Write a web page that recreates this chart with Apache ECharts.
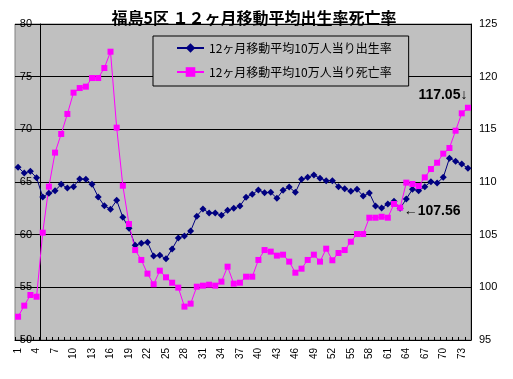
<!DOCTYPE html>
<html>
<head>
<meta charset="utf-8">
<script src="https://cdn.jsdelivr.net/npm/echarts@6/dist/echarts.min.js"></script>
<style>html,body{margin:0;padding:0;background:#fff}#c{width:513px;height:379px}</style>
</head>
<body>
<div id="c"></div>
<script>
var categories = ['1','2','3','4','5','6','7','8','9','10','11','12','13','14','15','16','17','18','19','20',
'21','22','23','24','25','26','27','28','29','30','31','32','33','34','35','36','37','38','39','40',
'41','42','43','44','45','46','47','48','49','50','51','52','53','54','55','56','57','58','59','60',
'61','62','63','64','65','66','67','68','69','70','71','72','73','74'];

var birthRate = [66.40,65.85,66.01,65.41,63.58,63.93,64.18,64.78,64.43,64.56,
65.29,65.25,64.78,63.58,62.74,62.41,63.26,61.65,60.60,58.99,
59.18,59.27,57.97,58.04,57.72,58.64,59.68,59.87,60.35,61.76,
62.44,62.06,62.06,61.84,62.31,62.50,62.72,63.55,63.83,64.24,
63.99,64.02,63.45,64.22,64.52,64.02,65.25,65.44,65.67,65.35,
65.13,65.13,64.56,64.37,64.12,64.31,63.67,63.96,62.72,62.53,
62.91,63.17,62.50,63.39,64.31,64.18,64.56,65.03,64.91,65.44,
67.25,66.96,66.71,66.30];

var deathRate = [97.21,98.26,99.27,99.11,105.19,109.56,112.79,114.56,116.46,118.48,
118.92,119.05,119.87,119.87,120.82,122.37,115.16,109.65,106.01,103.54,
102.60,101.30,100.29,101.58,100.95,100.44,99.97,98.17,98.45,100.06,
100.16,100.25,100.16,100.54,101.96,100.35,100.44,101.01,101.01,102.60,
103.54,103.39,103.01,103.10,102.44,101.39,101.77,102.60,103.10,102.44,
103.67,102.57,103.26,103.54,104.33,105.06,105.06,106.61,106.61,106.70,
106.61,107.91,107.56,109.94,109.81,109.62,110.44,111.23,111.83,112.69,
113.23,114.87,116.52,117.05];

var seriesNames = ['12ヶ月移動平均10万人当り出生率', '12ヶ月移動平均10万人当り死亡率'];
var titleText = '福島5区 １２ヶ月移動平均出生率死亡率';
var annotIdx = [73, 62];

var chart = echarts.init(document.getElementById('c'), null, {renderer: 'canvas'});
var font = '"Noto Sans CJK JP", "Liberation Sans", sans-serif';
chart.setOption({
  animation: false,
  backgroundColor: '#fff',
  title: {
    text: titleText, left: 249, top: 5, textAlign: 'center',
    textStyle: {fontFamily: font, fontSize: 16, fontWeight: 'bold', color: '#000'}
  },
  legend: {
    orient: 'vertical', left: 153, top: 36,
    padding: [6, 17, 8, 23],
    itemWidth: 27, itemHeight: 12, itemGap: 12, itemTextGap: 5,
    backgroundColor: '#C0C0C0', borderColor: '#000', borderWidth: 1,
    textStyle: {fontFamily: font, fontSize: 12, color: '#000'},
    data: seriesNames
  },
  grid: {left: 15, right: 42, top: 24, bottom: 39, show: true, backgroundColor: '#C0C0C0', borderColor: '#808080', borderWidth: 1},
  xAxis: {
    type: 'category', data: categories, boundaryGap: true,
    axisLine: {lineStyle: {color: '#000', width: 1}},
    axisTick: {show: true, interval: 0, inside: true, length: 3, lineStyle: {color: '#000'}},
    axisLabel: {interval: 2, rotate: 90, margin: 8, fontFamily: '"Liberation Sans", Arial, sans-serif', fontSize: 10, color: '#000'},
    splitLine: {show: false}
  },
  yAxis: [{
    type: 'value', min: 50, max: 80, interval: 5, position: 'left', offset: -25,
    axisLine: {show: true, lineStyle: {color: '#000', width: 1}},
    axisTick: {show: false},
    axisLabel: {margin: 8, fontFamily: '"Liberation Sans", Arial, sans-serif', fontSize: 11, color: '#000'},
    splitLine: {show: true, lineStyle: {color: '#000', width: 1}}
  }, {
    type: 'value', min: 95, max: 125, interval: 5, position: 'right',
    axisLine: {show: true, lineStyle: {color: '#000', width: 1}},
    axisTick: {show: false},
    axisLabel: {margin: 8, fontFamily: '"Liberation Sans", Arial, sans-serif', fontSize: 11, color: '#000'},
    splitLine: {show: false}
  }],
  series: [{
    name: seriesNames[0], type: 'line', yAxisIndex: 0, data: birthRate,
    symbol: 'diamond', symbolSize: 7, showAllSymbol: true,
    itemStyle: {color: '#000080'}, lineStyle: {color: '#000080', width: 1}
  }, {
    name: seriesNames[1], type: 'line', yAxisIndex: 1, data: deathRate,
    symbol: 'rect', symbolSize: 6, showAllSymbol: true,
    itemStyle: {color: '#FF00FF'}, lineStyle: {color: '#FF00FF', width: 1},
    markPoint: {
      symbol: 'circle', symbolSize: 0, silent: true,
      label: {show: true, fontFamily: '"Liberation Sans", Arial, sans-serif', fontSize: 14, fontWeight: 'bold', color: '#000'},
      data: [
        {coord: [annotIdx[0], deathRate[annotIdx[0]]], label: {formatter: deathRate[annotIdx[0]].toFixed(2) + '↓', offset: [-25, -13]}},
        {coord: [annotIdx[1], deathRate[annotIdx[1]]], label: {formatter: '←' + deathRate[annotIdx[1]].toFixed(2), offset: [32, 3]}}
      ]
    }
  }]
});
</script>
</body>
</html>
